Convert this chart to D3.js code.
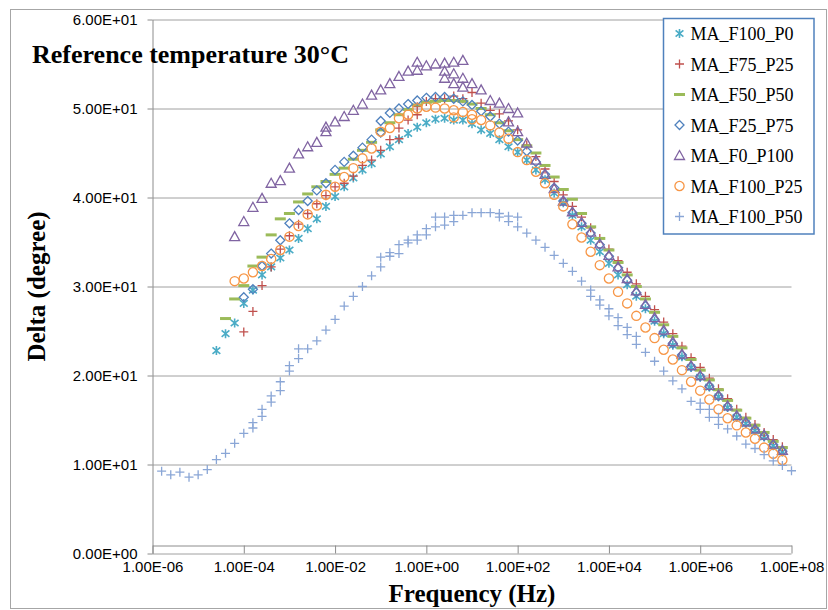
<!DOCTYPE html>
<html><head><meta charset="utf-8">
<script src="https://cdn.jsdelivr.net/npm/d3@7"></script>
<style>body{margin:0;background:#fff}</style>
</head><body>
<svg id="c" width="828" height="610"></svg>
<script>
// ---------- DATA (frequency given as log10 Hz, delta in degrees) ----------
const seriesNames = ["MA_F100_P0","MA_F75_P25","MA_F50_P50","MA_F25_P75","MA_F0_P100","MA_F100_P25","MA_F100_P50"];
const seriesColors = ["#4bacc6","#c0504d","#9bbb59","#4f81bd","#8064a2","#f79646","#8aa6d6"];
const seriesMarkers = ["asterisk","plus","dash","diamond","triangle","circle","plus"];

const MA_F100_P0 = [[-4.6,22.8],[-4.4,24.7],[-4.2,25.9],[-4.0,28.1],[-3.8,29.6],[-3.6,31.3],[-3.4,32.2],[-3.2,33.2],[-3.0,34.1],[-2.8,35.4],[-2.6,36.5],[-2.4,37.6],[-2.2,39.0],[-2.0,40.1],[-1.8,41.2],[-1.6,42.2],[-1.4,43.1],[-1.2,43.8],[-1.0,44.9],[-0.8,45.7],[-0.6,46.5],[-0.4,47.2],[-0.2,47.9],[0.0,48.4],[0.2,48.8],[0.4,48.9],[0.6,48.7],[0.8,48.7],[1.0,48.3],[1.2,47.6],[1.4,47.2],[1.6,46.5],[1.8,45.7],[2.0,45.1],[2.2,44.2],[2.4,43.1],[2.6,42.0],[2.8,40.5],[3.0,39.4],[3.2,38.0],[3.4,36.7],[3.6,35.2],[3.8,33.9],[4.0,32.6],[4.2,31.3],[4.4,30.2],[4.6,28.9],[4.8,27.5],[5.0,26.1],[5.2,24.7],[5.4,23.4],[5.6,22.1],[5.8,20.9],[6.0,19.8],[6.2,18.7],[6.4,17.6],[6.6,16.4],[6.8,15.3],[7.0,14.6],[7.2,13.8],[7.4,13.1],[7.6,12.1],[7.8,11.4]];

const MA_F75_P25 = [[-4.0,24.9],[-3.8,27.2],[-3.6,30.1],[-3.4,32.2],[-3.2,34.2],[-3.0,35.7],[-2.8,37.0],[-2.6,38.2],[-2.4,39.3],[-2.2,40.2],[-2.0,41.2],[-1.8,41.6],[-1.6,42.4],[-1.4,43.6],[-1.2,44.2],[-1.0,45.3],[-0.8,46.5],[-0.6,46.6],[-0.6,47.8],[-0.4,48.7],[-0.2,49.3],[-0.2,50.2],[0.0,50.8],[0.2,51.1],[0.4,51.1],[0.6,51.4],[0.8,51.1],[1.0,51.8],[1.2,50.6],[1.4,49.8],[1.6,49.4],[1.8,48.6],[2.0,47.6],[2.2,45.9],[2.4,44.6],[2.6,43.2],[2.8,41.8],[3.0,40.3],[3.2,39.0],[3.4,37.8],[3.6,36.6],[3.8,35.4],[4.0,34.2],[4.2,32.9],[4.4,31.6],[4.6,30.3],[4.8,28.9],[5.0,27.4],[5.2,26.0],[5.4,24.7],[5.6,23.3],[5.8,22.0],[6.0,20.9],[6.2,19.7],[6.4,18.5],[6.6,17.4],[6.8,16.2],[7.0,15.3],[7.2,14.5],[7.4,13.6],[7.6,12.8],[7.8,12.0]];

const MA_F50_P50 = [[-4.4,26.4],[-4.2,28.6],[-4.0,30.1],[-3.8,32.3],[-3.6,33.3],[-3.4,35.8],[-3.2,37.6],[-3.0,38.2],[-2.8,39.5],[-2.6,40.4],[-2.4,41.2],[-2.2,41.8],[-2.0,42.6],[-1.8,43.3],[-1.6,44.3],[-1.4,45.3],[-1.2,46.2],[-1.0,47.6],[-0.8,48.4],[-0.6,49.3],[-0.4,49.9],[-0.2,50.4],[0.0,50.7],[0.2,50.8],[0.4,50.9],[0.6,50.9],[0.8,50.8],[1.0,50.5],[1.2,50.0],[1.4,49.3],[1.6,48.4],[1.8,47.5],[2.0,46.5],[2.2,45.8],[2.4,45.0],[2.6,43.6],[2.8,42.3],[3.0,40.9],[3.2,39.8],[3.4,38.2],[3.6,36.7],[3.8,35.4],[4.0,34.1],[4.2,32.7],[4.4,31.3],[4.6,30.0],[4.8,28.6],[5.0,27.1],[5.2,25.7],[5.4,24.4],[5.6,23.1],[5.8,21.8],[6.0,20.6],[6.2,19.5],[6.4,18.4],[6.6,17.2],[6.8,16.1],[7.0,15.2],[7.2,14.4],[7.4,13.6],[7.6,12.6],[7.8,11.9]];

const MA_F25_P75 = [[-4.0,28.8],[-3.8,29.7],[-3.6,32.3],[-3.4,33.7],[-3.2,35.2],[-3.0,37.1],[-2.8,38.6],[-2.6,39.6],[-2.4,40.8],[-2.2,41.6],[-2.0,43.1],[-1.8,44.0],[-1.6,44.7],[-1.4,45.6],[-1.2,46.5],[-1.0,47.3],[-1.0,48.6],[-0.8,49.5],[-0.6,50.0],[-0.4,50.5],[-0.2,50.9],[0.0,51.2],[0.2,51.3],[0.4,51.3],[0.6,51.1],[0.8,50.8],[1.0,50.4],[1.2,49.7],[1.4,49.1],[1.6,48.3],[1.8,47.4],[2.0,46.4],[2.2,45.2],[2.4,44.0],[2.6,42.6],[2.8,41.1],[3.0,39.6],[3.2,38.3],[3.4,37.1],[3.6,36.0],[3.8,34.7],[4.0,33.4],[4.2,32.1],[4.4,30.7],[4.6,29.3],[4.8,27.8],[5.0,26.3],[5.2,24.9],[5.4,23.6],[5.6,22.3],[5.8,21.0],[6.0,19.9],[6.2,18.8],[6.4,17.7],[6.6,16.5],[6.8,15.4],[7.0,14.7],[7.2,13.9],[7.4,13.2],[7.6,12.2],[7.8,11.5]];

const MA_F0_P100 = [[-4.2,35.6],[-4.0,37.3],[-3.8,38.9],[-3.6,39.9],[-3.4,41.6],[-3.2,41.9],[-3.0,43.3],[-2.8,44.9],[-2.6,45.7],[-2.4,46.2],[-2.2,47.4],[-2.2,47.9],[-2.0,48.5],[-1.8,49.1],[-1.6,49.8],[-1.4,50.5],[-1.2,51.5],[-1.0,52.1],[-0.8,52.8],[-0.6,53.6],[-0.4,54.2],[-0.2,55.2],[0.0,54.8],[0.2,55.0],[0.4,55.1],[0.6,55.2],[0.8,55.4],
  [-0.2,54.3],[0.4,54.2],[0.4,53.4],[0.6,53.9],[0.6,52.8],[0.8,53.4],[0.8,52.4],[1.0,52.8],[1.2,52.1],[1.4,50.9],[1.6,50.6],[1.8,50.0],[2.0,49.5],
  [1.8,48.5],[2.0,47.4],[2.2,46.1],[2.4,44.2],[2.6,42.6],[2.8,41.0],[3.0,39.6],[3.2,38.4],[3.4,37.2],[3.6,36.1],[3.8,34.8],[4.0,33.5],[4.2,32.2],[4.4,30.9],[4.6,29.5],[4.8,28.0],[5.0,26.5],[5.2,25.1],[5.4,23.8],[5.6,22.4],[5.8,21.1],[6.0,20.0],[6.2,18.9],[6.4,17.8],[6.6,16.6],[6.8,15.5],[7.0,14.8],[7.2,14.0],[7.4,13.3],[7.6,12.3],[7.8,11.6]];

const MA_F100_P25 = [[-4.2,30.6],[-4.0,30.9],[-3.8,31.6],[-3.6,32.3],[-3.4,33.1],[-3.2,34.1],[-3.0,35.6],[-2.8,36.8],[-2.6,38.1],[-2.4,39.1],[-2.2,40.3],[-2.0,41.2],[-1.8,42.3],[-1.6,43.3],[-1.4,44.4],[-1.2,45.5],[-1.0,47.4],[-0.8,47.8],[-0.6,48.9],[-0.4,49.3],[-0.2,50.0],[0.0,50.2],[0.2,50.1],[0.4,50.0],[0.6,49.8],[0.6,49.0],[0.8,49.6],[1.0,49.3],[1.0,48.8],[1.2,48.7],[1.4,48.1],[1.6,47.3],[1.8,46.6],[2.0,45.1],[2.2,44.2],[2.4,42.9],[2.6,41.6],[2.8,40.3],[3.0,39.0],[3.2,37.0],[3.4,35.5],[3.6,33.9],[3.8,32.4],[4.0,30.9],[4.2,29.4],[4.4,28.1],[4.6,26.7],[4.8,25.4],[5.0,24.2],[5.2,22.9],[5.4,21.8],[5.6,20.6],[5.8,19.3],[6.0,18.3],[6.2,17.3],[6.4,16.2],[6.6,15.2],[6.8,14.4],[7.0,13.6],[7.2,12.9],[7.4,11.9],[7.6,11.2],[7.8,10.5]];

const MA_F100_P50 = [[-5.8,9.25],[-5.6,8.84],[-5.4,9.14],[-5.2,8.58],[-5.0,8.84],[-4.8,9.43],[-4.6,10.55],[-4.4,11.26],[-4.2,12.38],[-4.0,13.5],[-3.8,14.1],[-3.8,14.7],[-3.6,15.4],[-3.6,16.2],[-3.4,17.0],[-3.4,17.7],[-3.2,18.3],[-3.2,19.3],[-3.0,20.5],[-3.0,21.1],[-2.8,21.9],[-2.8,23.0],[-2.6,23.0],[-2.4,23.9],[-2.2,25.1],[-2.0,26.3],[-1.8,27.8],[-1.6,28.9],[-1.4,30.0],[-1.2,31.2],[-1.0,32.2],[-1.0,33.3],[-0.8,33.4],[-0.8,33.8],[-0.6,33.7],[-0.6,34.7],[-0.4,34.9],[-0.4,35.2],[-0.2,35.2],[-0.2,35.8],[0.0,35.8],[0.0,36.5],[0.2,36.7],[0.2,37.8],[0.4,36.9],[0.4,37.8],[0.6,37.3],[0.6,38.0],[0.8,38.0],[1.0,38.3],[1.2,38.3],[1.4,38.3],[1.6,38.2],[1.6,37.8],[1.8,37.9],[1.8,37.3],[2.0,37.8],[2.0,36.7],[2.2,36.0],[2.4,35.2],[2.6,34.4],[2.8,33.5],[3.0,32.6],[3.2,31.7],[3.4,30.6],[3.6,29.6],[3.6,28.9],[3.8,28.5],[3.8,27.9],[4.0,27.5],[4.0,26.7],[4.2,26.5],[4.2,25.6],[4.4,25.4],[4.4,24.6],[4.6,24.4],[4.6,23.5],[4.8,22.6],[5.0,21.6],[5.2,20.5],[5.4,19.4],[5.6,18.5],[5.8,17.1],[6.0,16.9],[6.0,16.2],[6.2,16.2],[6.2,15.3],[6.4,15.3],[6.4,14.5],[6.6,14.0],[6.8,13.2],[7.0,12.3],[7.2,11.8],[7.4,11.1],[7.6,10.4],[7.8,9.9],[8.0,9.3]];

const allSeries = [MA_F100_P0, MA_F75_P25, MA_F50_P50, MA_F25_P75, MA_F0_P100, MA_F100_P25, MA_F100_P50];

const yTicks = [0,10,20,30,40,50,60];
const yTickLabels = ["0.00E+00","1.00E+01","2.00E+01","3.00E+01","4.00E+01","5.00E+01","6.00E+01"];
const xTicks = [1e-6,1e-4,1e-2,1e0,1e2,1e4,1e6,1e8];
const xTickLabels = ["1.00E-06","1.00E-04","1.00E-02","1.00E+00","1.00E+02","1.00E+04","1.00E+06","1.00E+08"];

const titleText = "Reference temperature 30°C";
const xTitle = "Frequency (Hz)";
const yTitle = "Delta (degree)";

// ---------- DRAWING ----------
const svg = d3.select("#c");
const X0 = 152.5, X1 = 791.5, YB = 553.5, YT = 19.5;
const x = d3.scaleLog().domain([1e-6, 1e8]).range([X0, X1]);
const y = d3.scaleLinear().domain([0, 60]).range([YB, YT]);

svg.append("rect").attr("x",10.5).attr("y",9.5).attr("width",816).attr("height",599)
  .attr("fill","#fff").attr("stroke","#a6a6a6").attr("stroke-width",1);

// gridlines
const grid = svg.append("g").attr("transform",`translate(${X0},0)`)
  .call(d3.axisLeft(y).tickValues(yTicks).tickSize(-(X1-X0)).tickFormat(""));
grid.select(".domain").remove();
grid.selectAll("line").attr("stroke","#a0a0a0").attr("stroke-width",1);

// y axis
const tickFont = "'Liberation Sans', Arial, sans-serif";
const yAx = svg.append("g").attr("transform",`translate(${X0},0)`)
  .call(d3.axisLeft(y).tickValues(yTicks).tickSize(5).tickSizeOuter(0).tickPadding(10)
    .tickFormat((d,i)=>yTickLabels[i]));
yAx.select(".domain").attr("stroke","#8c8c8c");
yAx.selectAll("line").attr("stroke","#8c8c8c");
yAx.selectAll("text").attr("font-family",tickFont).attr("font-size",15).attr("fill","#000");

// x axis (line slightly above the zero line, ticks down to it)
const XA = 545.5;
const xAx = svg.append("g").attr("transform",`translate(0,${XA})`)
  .call(d3.axisBottom(x).tickValues(xTicks).tickSize(8).tickSizeOuter(0).tickPadding(8)
    .tickFormat((d,i)=>xTickLabels[i]));
xAx.select(".domain").attr("stroke","#8c8c8c");
xAx.selectAll("line").attr("stroke","#8c8c8c");
xAx.selectAll("text").attr("font-family",tickFont).attr("font-size",15).attr("fill","#000");

// markers
const markerPaths = {
  asterisk: "M0,-4.5V4.5M-3.9,-3.2L3.9,3.2M-3.9,3.2L3.9,-3.2",
  plus: "M-4.5,0H4.5M0,-4.5V4.5",
  dash: "M-5.5,0H5.5",
  diamond: "M0,-4.5L4.5,0L0,4.5L-4.5,0Z",
  triangle: "M0,-5L5,4L-5,4Z"
};
function drawMarker(g, type, color) {
  if (type === "circle") {
    g.append("circle").attr("r",4.6).attr("fill","none").attr("stroke",color).attr("stroke-width",1.3);
  } else {
    g.append("path").attr("d",markerPaths[type]).attr("fill","none").attr("stroke",color)
      .attr("stroke-width", type === "dash" ? 3 : (type==="asterisk"?1.6:1.3));
  }
}

const plot = svg.append("g");
allSeries.forEach((data, si) => {
  const g = plot.append("g").attr("class","series");
  g.selectAll("g").data(data).join("g")
    .attr("transform", d => `translate(${x(Math.pow(10, d[0]))},${y(d[1])})`)
    .each(function(){ drawMarker(d3.select(this), seriesMarkers[si], seriesColors[si]); });
});

// titles
const serif = "'Liberation Serif', 'Times New Roman', serif";
svg.append("text").attr("x",32).attr("y",63).attr("font-family",serif).attr("font-weight","bold")
  .attr("font-size",26).attr("fill","#000").text(titleText);
svg.append("text").attr("x",(X0+X1)/2).attr("y",602).attr("text-anchor","middle")
  .attr("font-family",serif).attr("font-weight","bold").attr("font-size",25).attr("fill","#000").text(xTitle);
svg.append("text").attr("transform",`translate(45,${(YT+YB)/2}) rotate(-90)`).attr("text-anchor","middle")
  .attr("font-family",serif).attr("font-weight","bold").attr("font-size",25).attr("fill","#000").text(yTitle);

// legend
const lg = svg.append("g");
lg.append("rect").attr("x",663.5).attr("y",18.5).attr("width",150.5).attr("height",215.5)
  .attr("fill","#fff").attr("stroke","#4f81bd").attr("stroke-width",1.5);
seriesNames.forEach((name, i) => {
  const cy = 33.5 + i * 30.5;
  const m = lg.append("g").attr("transform",`translate(679.5,${cy})`);
  drawMarker(m, seriesMarkers[i], seriesColors[i]);
  lg.append("text").attr("x",690.5).attr("y",cy+6.5).attr("font-family",serif)
    .attr("font-size",18).attr("fill","#000").text(name);
});
</script>
</body></html>
